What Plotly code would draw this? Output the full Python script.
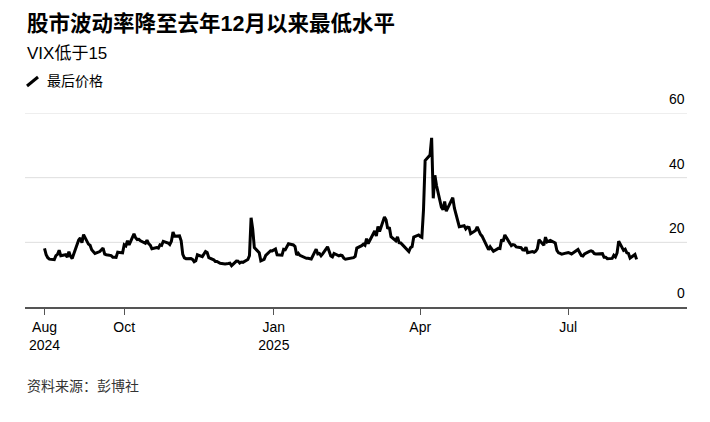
import pandas as pd
import plotly.graph_objects as go

# ---------------- data ----------------
start_date = "2024-08-13"
end_date = "2025-08-12"
market_holidays = ["2024-09-02", "2024-11-28", "2024-12-25", "2025-01-01", "2025-01-09",
                   "2025-01-20", "2025-02-17", "2025-04-18", "2025-05-26", "2025-06-19",
                   "2025-07-04"]

vix_2024_aug = [18.12, 16.19, 15.23, 14.80, 14.65, 15.88, 16.27, 17.55, 15.86, 16.15, 15.43, 17.11, 15.65, 15.00]
vix_2024_sep = [20.72, 21.32, 19.90, 22.38, 19.45, 19.08, 17.69, 17.07, 16.56, 17.14, 17.61, 18.23, 16.33, 16.15,
                15.89, 15.39, 15.41, 15.37, 16.96, 16.73]
vix_2024_oct = [19.26, 18.90, 20.49, 19.21, 22.64, 21.42, 20.86, 20.93, 20.46, 19.70, 20.64, 19.58, 19.11, 18.03,
                18.37, 18.20, 19.24, 19.08, 20.33, 19.80, 19.34, 20.35, 23.16]
vix_2024_nov = [21.88, 21.98, 20.49, 16.27, 15.20, 14.94, 14.97, 14.71, 14.02, 14.31, 16.14, 15.58, 16.35, 17.16,
                16.87, 15.24, 14.60, 14.10, 14.10, 13.51]
vix_2024_dec = [13.34, 13.30, 13.45, 13.54, 12.77, 14.19, 14.18, 13.58, 13.92, 13.81, 14.69, 15.87, 27.62, 24.09,
                18.36, 16.78, 14.27, 14.73, 15.95, 17.40, 17.35]
vix_2025_jan = [17.93, 16.13, 16.04, 17.82, 17.70, 19.54, 19.19, 18.71, 16.12, 16.60, 15.97, 15.06, 15.10, 15.02,
                14.85, 17.90, 16.41, 16.56, 15.84, 16.43]
vix_2025_feb = [18.62, 17.21, 15.77, 15.50, 16.54, 15.81, 16.02, 15.89, 15.10, 14.77, 15.35, 15.27, 15.66, 18.21,
                18.98, 19.43, 19.10, 21.13, 19.63]
vix_2025_mar = [22.78, 23.51, 21.93, 24.87, 23.37, 27.86, 26.92, 24.23, 24.66, 21.77, 20.51, 21.70, 19.90, 19.80,
                19.28, 17.48, 17.15, 18.33, 18.69, 21.65, 22.28]
vix_2025_apr = [21.77, 21.51, 30.02, 45.31, 46.98, 52.33, 33.62, 40.72, 37.56, 30.89, 30.12, 32.64, 29.65, 33.82,
                30.57, 28.45, 26.47, 24.84, 25.15, 24.17, 24.70]
vix_2025_may = [24.60, 22.68, 23.64, 24.76, 23.55, 22.48, 21.90, 18.39, 17.72, 18.62, 17.83, 17.24, 18.14, 18.09,
                20.87, 20.28, 22.29, 18.96, 19.31, 19.18, 18.57]
vix_2025_jun = [18.36, 17.69, 17.61, 18.48, 16.77, 17.16, 16.95, 17.26, 18.02, 20.82, 19.11, 21.60, 20.14, 20.62,
                19.83, 17.48, 16.76, 16.59, 16.32, 16.73]
vix_2025_jul = [16.83, 16.64, 16.38, 17.79, 16.81, 15.94, 15.78, 16.40, 17.20, 17.38, 17.16, 16.52, 16.41, 16.65,
                16.50, 15.37, 15.39, 14.93, 15.03, 15.98, 15.48, 16.72]
vix_2025_aug = [20.38, 17.52, 17.85, 16.77, 16.57, 15.15, 16.25, 14.73]

x_tick_vals = ["2024-08-13", "2024-10-01", "2025-01-01", "2025-04-01", "2025-07-01"]
x_tick_text = ["Aug<br>2024", "Oct", "Jan<br>2025", "Apr", "Jul"]
y_tick_vals = [0, 20, 40, 60]

title_text = "股市波动率降至去年12月以来最低水平"
subtitle_text = "VIX低于15"
legend_text = "最后价格"
source_text = "资料来源：彭博社"

# --------------- build ----------------
vix = (vix_2024_aug + vix_2024_sep + vix_2024_oct + vix_2024_nov + vix_2024_dec + vix_2025_jan +
       vix_2025_feb + vix_2025_mar + vix_2025_apr + vix_2025_may + vix_2025_jun + vix_2025_jul + vix_2025_aug)
days = pd.bdate_range(start_date, end_date)
days = days[~days.isin(pd.to_datetime(market_holidays))]
n = min(len(days), len(vix))
df = pd.DataFrame({"date": days[:n], "vix": vix[:n]})

FONT = "Liberation Sans, Arial, Noto Sans CJK SC, sans-serif"
CJK = "Liberation Sans, Noto Sans CJK SC, sans-serif"

fig = go.Figure()
fig.add_trace(go.Scatter(x=df["date"], y=df["vix"], mode="lines",
                         line=dict(color="#000000", width=3), hoverinfo="skip",
                         showlegend=False, cliponaxis=False))

# page offset (body margin) = 8px; plot area in page pixels: x 25..687, y 113..307
OFF = 8
W, H = 702, 414
L, T = 25 - OFF, 113 - OFF
R = W - (687 - OFF)
B = H - (307 - OFF)
pw, ph = W - L - R, H - T - B


def px(x):
    return (x - OFF - L) / pw


def py(y):
    return (H - B - (y - OFF)) / ph


annotations = []
for v in y_tick_vals:
    annotations.append(dict(x=1, xref="paper", y=v, yref="y", text=str(v), showarrow=False,
                            xanchor="right", yanchor="middle", yshift=14,
                            font=dict(family=FONT, size=14, color="#000000")))
annotations += [
    dict(x=px(25), y=py(23), xref="paper", yref="paper", text="<b>" + title_text + "</b>",
         showarrow=False, xanchor="left", yanchor="middle",
         font=dict(family=CJK, size=21.5, color="#000000")),
    dict(x=px(25), y=py(54), xref="paper", yref="paper", text=subtitle_text,
         showarrow=False, xanchor="left", yanchor="middle",
         font=dict(family=CJK, size=17, color="#000000")),
    dict(x=px(45), y=py(81), xref="paper", yref="paper", text=legend_text,
         showarrow=False, xanchor="left", yanchor="middle",
         font=dict(family=CJK, size=14, color="#000000")),
    dict(x=px(25), y=py(386), xref="paper", yref="paper", text=source_text,
         showarrow=False, xanchor="left", yanchor="middle",
         font=dict(family=CJK, size=14, color="#333333")),
]

shapes = [dict(type="line", xref="paper", yref="paper", x0=px(27), y0=py(86), x1=px(38), y1=py(77),
               line=dict(color="#000000", width=3))]
# gridlines drawn as shapes so the top one at 60 is visible too
for v in y_tick_vals[1:]:
    shapes.append(dict(type="line", xref="paper", yref="y", x0=0, x1=1, y0=v, y1=v,
                       layer="below", line=dict(color="#dedede", width=1)))

fig.update_layout(
    width=W, height=H,
    margin=dict(l=L, r=R, t=T, b=B),
    paper_bgcolor="#ffffff", plot_bgcolor="#ffffff",
    annotations=annotations, shapes=shapes,
    xaxis=dict(type="date", range=["2024-08-01", "2025-09-12"],
               tickvals=x_tick_vals, ticktext=x_tick_text,
               ticks="outside", ticklen=6, tickwidth=1, tickcolor="#555555",
               showline=True, linecolor="#555555", linewidth=1.5,
               showgrid=False, zeroline=False,
               tickfont=dict(family=FONT, size=14, color="#000000")),
    yaxis=dict(range=[0, 60], tickvals=y_tick_vals, showticklabels=False,
               showgrid=False, zeroline=False, showline=False, fixedrange=True),
)

fig.write_html("out.html")
